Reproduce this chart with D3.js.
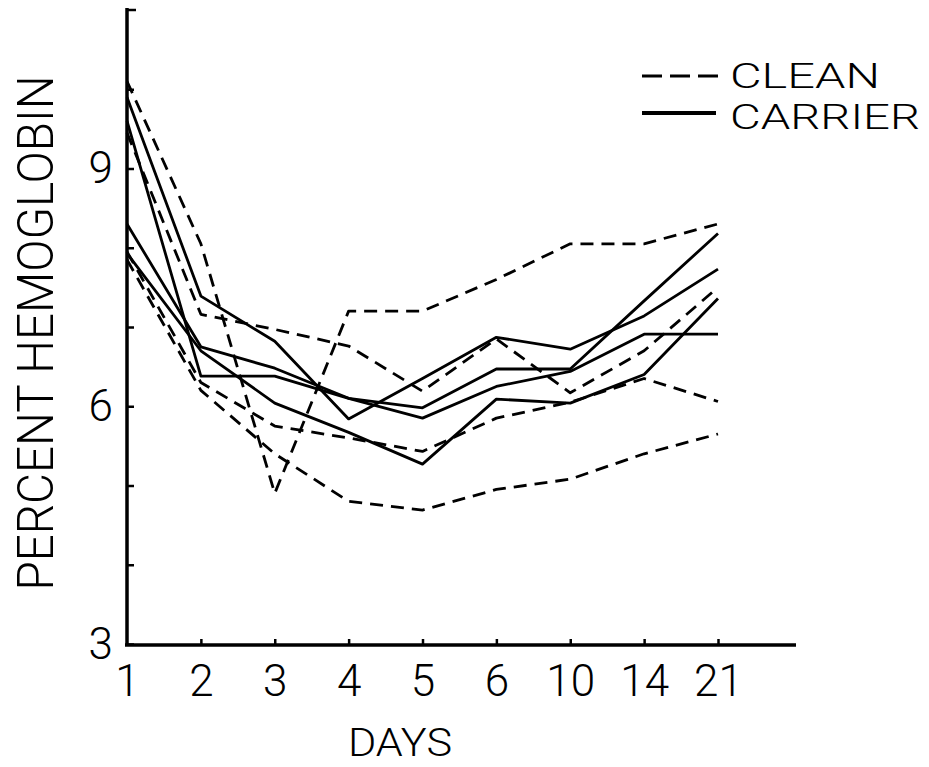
<!DOCTYPE html>
<html>
<head>
<meta charset="utf-8">
<script src="https://cdn.jsdelivr.net/npm/d3@7"></script>
<style>
  html, body { margin: 0; padding: 0; background: #fff; }
  svg { display: block; }
  text { font-family: Roboto, "DejaVu Sans", sans-serif; font-weight: 300; fill: #000; }
</style>
</head>
<body>
<svg id="chart" width="929" height="767"></svg>
<script>
// ---- data ----
const days = ["1", "2", "3", "4", "5", "6", "10", "14", "21"];
const yTickValues = [3, 4, 5, 6, 7, 8, 9, 10];
const yTickLabels = ["3", "", "", "6", "", "", "9", ""];

// clean (dashed) animals
const clean1 = [10.1, 8.05, 4.9, 7.2, 7.2, 7.6, 8.05, 8.05, 8.3];
const clean2 = [9.45, 7.16, 6.97, 6.76, 6.19, 6.85, 6.17, 6.7, 7.5];
const clean3 = [7.95, 6.3, 5.75, 5.6, 5.43, 5.85, 6.05, 6.35, 6.06];
const clean4 = [7.85, 6.2, 5.4, 4.8, 4.69, 4.95, 5.08, 5.4, 5.65];

// carrier (solid) animals
const carrier1 = [9.9, 7.39, 6.82, 5.84, 6.35, 6.87, 6.72, 7.14, 7.73];
const carrier2 = [8.3, 6.75, 6.48, 6.1, 5.98, 6.47, 6.47, 7.33, 8.18];
const carrier3 = [9.6, 6.38, 6.38, 6.1, 5.85, 6.25, 6.44, 6.91, 6.91];
const carrier4 = [7.93, 6.7, 6.04, 5.67, 5.27, 6.09, 6.04, 6.4, 7.36];

const cleanSeries = [clean1, clean2, clean3, clean4];
const carrierSeries = [carrier1, carrier2, carrier3, carrier4];

const legendLabels = ["CLEAN", "CARRIER"];
const xTitle = "DAYS";
const yTitle = "PERCENT HEMOGLOBIN";

// ---- drawing ----
const svg = d3.select("#chart");
const x = d3.scalePoint().domain(days).range([127, 718]);
const y = d3.scaleLinear().domain([3, 11]).range([644, 10]);

const line = d3.line()
  .x((d, i) => x(days[i]))
  .y(d => y(d));

const g = svg.append("g");

// y axis (inward ticks)
const yAxis = d3.axisLeft(y)
  .tickValues(yTickValues)
  .tickSize(-7)
  .tickPadding(14)
  .tickFormat((d, i) => yTickLabels[i]);
const yg = g.append("g").attr("transform", "translate(127,0)").call(yAxis);
yg.select(".domain").remove();
yg.selectAll(".tick line").attr("stroke", "#000").attr("stroke-width", 2.5);
yg.selectAll(".tick text").attr("font-size", 44).attr("fill", "#000");

// x axis (inward ticks)
const xAxis = d3.axisBottom(x).tickSize(-6).tickPadding(20);
const xg = g.append("g").attr("transform", "translate(0,645)").call(xAxis);
xg.select(".domain").remove();
xg.selectAll(".tick line").attr("stroke", "#000").attr("stroke-width", 2.5)
  .attr("opacity", (d, i) => i === 0 ? 0 : 1);
xg.selectAll(".tick text").attr("font-size", 44).attr("fill", "#000");

// axis lines
g.append("line").attr("x1", 127).attr("x2", 127).attr("y1", y(11) - 2).attr("y2", 646)
  .attr("stroke", "#000").attr("stroke-width", 3.5);
g.append("line").attr("x1", 127).attr("x2", 136).attr("y1", y(11)).attr("y2", y(11))
  .attr("stroke", "#000").attr("stroke-width", 2.5);
g.append("line").attr("x1", 125).attr("x2", 796).attr("y1", 645).attr("y2", 645)
  .attr("stroke", "#000").attr("stroke-width", 3.5);

// series
cleanSeries.forEach(s => {
  g.append("path").datum(s).attr("d", line)
    .attr("fill", "none").attr("stroke", "#000").attr("stroke-width", 2.8)
    .attr("stroke-dasharray", "13,8").attr("stroke-linejoin", "round");
});
carrierSeries.forEach(s => {
  g.append("path").datum(s).attr("d", line)
    .attr("fill", "none").attr("stroke", "#000").attr("stroke-width", 2.8)
    .attr("stroke-linejoin", "round");
});

// titles
g.append("text").attr("x", 400).attr("y", 756).attr("text-anchor", "middle")
  .attr("font-size", 38).attr("textLength", 104).attr("lengthAdjust", "spacingAndGlyphs")
  .text(xTitle);
g.append("text").attr("transform", "translate(53,333) rotate(-90)")
  .attr("text-anchor", "middle").attr("font-size", 50)
  .attr("textLength", 515).attr("lengthAdjust", "spacingAndGlyphs")
  .text(yTitle);

// legend
const legend = g.append("g");
legend.append("line").attr("x1", 642).attr("x2", 718).attr("y1", 76).attr("y2", 76)
  .attr("stroke", "#000").attr("stroke-width", 2.8).attr("stroke-dasharray", "20,8");
legend.append("line").attr("x1", 642).attr("x2", 716).attr("y1", 113).attr("y2", 113)
  .attr("stroke", "#000").attr("stroke-width", 3.8);
legend.append("text").attr("x", 730).attr("y", 88).attr("font-size", 35)
  .attr("textLength", 150).attr("lengthAdjust", "spacingAndGlyphs").text(legendLabels[0]);
legend.append("text").attr("x", 730).attr("y", 129).attr("font-size", 35)
  .attr("textLength", 190).attr("lengthAdjust", "spacingAndGlyphs").text(legendLabels[1]);
</script>
</body>
</html>
